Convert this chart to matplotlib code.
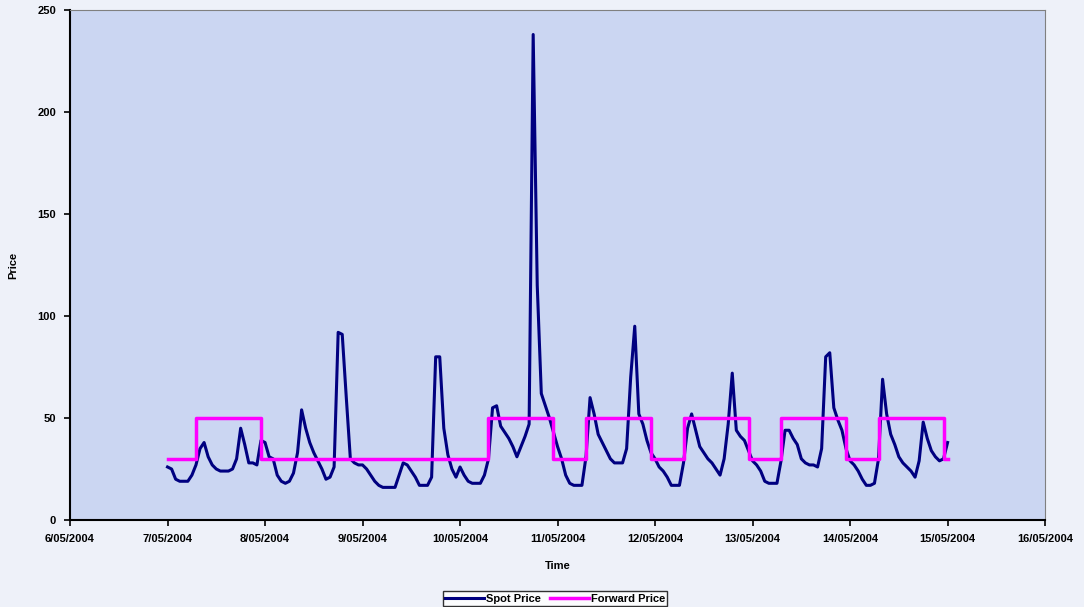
import matplotlib
matplotlib.use("Agg")
import matplotlib.pyplot as plt
import matplotlib.dates as mdates
import pandas as pd

# Spot price, hourly values, one list per day (7/05 .. 14/05)
day1 = [26, 25, 20, 19, 19, 19, 22, 27, 35, 38, 31, 27, 25, 24, 24, 24, 25, 30, 45, 37, 28, 28, 27, 39]
day2 = [38, 31, 30, 22, 19, 18, 19, 23, 33, 54, 45, 38, 33, 29, 25, 20, 21, 26, 92, 91, 60, 30, 28, 27]
day3 = [27, 25, 22, 19, 17, 16, 16, 16, 16, 22, 28, 27, 24, 21, 17, 17, 17, 21, 80, 80, 45, 32, 25, 21]
day4 = [26, 22, 19, 18, 18, 18, 22, 30, 55, 56, 46, 43, 40, 36, 31, 36, 41, 47, 238, 115, 62, 56, 50, 43]
day5 = [36, 30, 22, 18, 17, 17, 17, 31, 60, 52, 42, 38, 34, 30, 28, 28, 28, 35, 70, 95, 52, 47, 39, 33]
day6 = [30, 26, 24, 21, 17, 17, 17, 28, 45, 52, 44, 36, 33, 30, 28, 25, 22, 30, 47, 72, 44, 41, 39, 34]
day7 = [29, 27, 24, 19, 18, 18, 18, 29, 44, 44, 40, 37, 30, 28, 27, 27, 26, 35, 80, 82, 55, 49, 44, 35]
day8 = [29, 27, 24, 20, 17, 17, 18, 30, 69, 52, 42, 37, 31, 28, 26, 24, 21, 29, 48, 40, 34, 31, 29, 30]
last_spot = [38]

spot = day1 + day2 + day3 + day4 + day5 + day6 + day7 + day8 + last_spot

# Forward price: hours from 7/05 00:00 where the level changes, and the level
fwd_hours = [0, 7, 23, 79, 95, 103, 119, 127, 143, 151, 167, 175, 191, 192]
fwd_values = [30, 50, 30, 50, 30, 50, 30, 50, 30, 50, 30, 50, 30, 30]

start = pd.Timestamp("2004-05-07")
spot_times = pd.date_range(start, periods=len(spot), freq="h")
fwd_times = [start + pd.Timedelta(hours=h) for h in fwd_hours]

fig = plt.figure(figsize=(10.84, 6.07), dpi=100, facecolor="#eef1f9")
ax = fig.add_axes([0.0646, 0.1433, 0.8995, 0.8402])
ax.set_facecolor("#cbd6f2")

ax.plot(spot_times, spot, color="#000080", lw=2.2, label="Spot Price", zorder=2)
ax.plot(fwd_times, fwd_values, color="#ff00ff", lw=2.5, drawstyle="steps-post",
        label="Forward Price", zorder=3)

ax.set_xlim(pd.Timestamp("2004-05-06"), pd.Timestamp("2004-05-16"))
ax.set_ylim(0, 250)
ax.set_yticks([0, 50, 100, 150, 200, 250])
ax.xaxis.set_major_locator(mdates.DayLocator())
ax.xaxis.set_major_formatter(mdates.DateFormatter("%-d/%m/%Y"))

for s in ["top", "right"]:
    ax.spines[s].set_color("#808080")
ax.spines["left"].set_color("black")
ax.spines["bottom"].set_color("black")
ax.spines["left"].set_linewidth(1.5)
ax.spines["bottom"].set_linewidth(1.5)

ax.tick_params(axis="both", direction="out", length=4, width=1.2,
               labelsize=8, pad=6)
for lab in ax.get_xticklabels() + ax.get_yticklabels():
    lab.set_fontfamily("Liberation Sans")
    lab.set_fontweight("bold")

ax.set_xlabel("Time", fontsize=8, fontweight="bold", family="Liberation Sans", labelpad=12)
ax.set_ylabel("Price", fontsize=8, fontweight="bold", family="Liberation Sans", labelpad=14)

leg = fig.legend(loc="upper center", bbox_to_anchor=(0.512, 0.035), ncol=2,
                 frameon=True, fancybox=False, edgecolor="black",
                 handlelength=3.5, handletextpad=0.2, columnspacing=0.8,
                 borderpad=0.2, prop={"family": "Liberation Sans", "weight": "bold", "size": 8})
leg.get_frame().set_facecolor("white")
leg.get_frame().set_linewidth(1.0)

fig.savefig("out.png", dpi=100, facecolor=fig.get_facecolor())
